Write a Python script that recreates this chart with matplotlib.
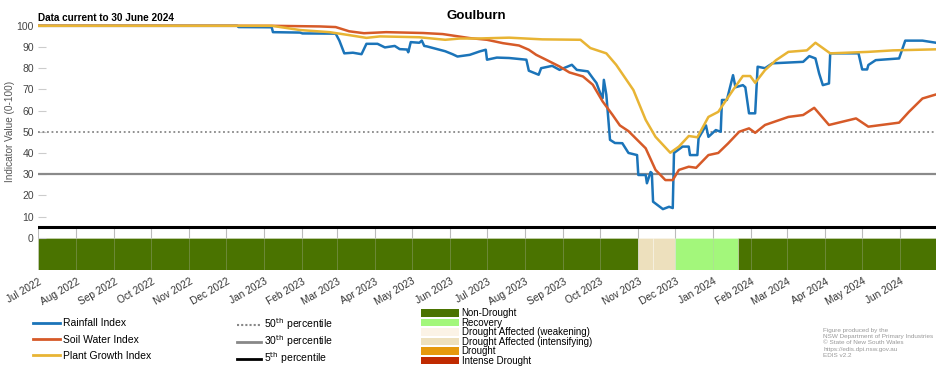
import numpy as np
import pandas as pd
import matplotlib
matplotlib.use("Agg")
import matplotlib.pyplot as plt
import matplotlib.dates as mdates
from matplotlib.lines import Line2D
from matplotlib.patches import Patch

plt.rcParams['font.family'] = ['Liberation Sans', 'DejaVu Sans']

# --- data ---
rain_dates = ["2022-07-01", "2022-12-10", "2022-12-11", "2023-01-07", "2023-01-08", "2023-01-30",
              "2023-02-01", "2023-02-28", "2023-03-03", "2023-03-07", "2023-03-14", "2023-03-21",
              "2023-03-25", "2023-04-03", "2023-04-09", "2023-04-17", "2023-04-21", "2023-04-27",
              "2023-04-28", "2023-04-30", "2023-05-07", "2023-05-09", "2023-05-11", "2023-05-13",
              "2023-05-28", "2023-06-03", "2023-06-07", "2023-06-17", "2023-06-25", "2023-06-30",
              "2023-07-01", "2023-07-09", "2023-07-19", "2023-08-02", "2023-08-04", "2023-08-12",
              "2023-08-14", "2023-08-23", "2023-08-29", "2023-09-08", "2023-09-12", "2023-09-21",
              "2023-09-25", "2023-09-28", "2023-10-01", "2023-10-03", "2023-10-04", "2023-10-06",
              "2023-10-09", "2023-10-13", "2023-10-19", "2023-10-24", "2023-10-31", "2023-11-01",
              "2023-11-07", "2023-11-08", "2023-11-11", "2023-11-12", "2023-11-13", "2023-11-21",
              "2023-11-26", "2023-11-29", "2023-11-30", "2023-12-07", "2023-12-12", "2023-12-13",
              "2023-12-19", "2023-12-20", "2023-12-26", "2023-12-28", "2024-01-03", "2024-01-07",
              "2024-01-08", "2024-01-12", "2024-01-17", "2024-01-19", "2024-01-25", "2024-01-27",
              "2024-01-30", "2024-02-04", "2024-02-06", "2024-02-12", "2024-02-18", "2024-03-14",
              "2024-03-19", "2024-03-24", "2024-03-27", "2024-03-30", "2024-04-04", "2024-04-05",
              "2024-04-28", "2024-05-01", "2024-05-05", "2024-05-06", "2024-05-12", "2024-05-31",
              "2024-06-05", "2024-06-19", "2024-06-30"]
rain_vals = [100, 100, 99.4, 99.3, 97, 96.8,
             96.4, 96.3, 93, 87, 87.3, 86.6,
             91.5, 91.5, 89.8, 90.5, 89, 88.8,
             87.5, 92.3, 92, 93, 90.5, 90.3,
             88, 86.6, 85.5, 86.3, 87.9, 88.7,
             84, 85, 84.8, 84, 78.8, 76.9,
             80, 81.1, 79.2, 81.6, 79.2, 78.5,
             75.3, 73, 68.3, 65.9, 74.5, 67.5,
             46.2, 44.7, 44.6, 40, 39, 29.6,
             29.6, 25.7, 31, 30.5, 17, 13.5,
             14.6, 14, 40, 43, 43, 39,
             39, 47, 53, 47.6, 50.8, 50,
             65, 65, 76.7, 71, 72, 71,
             58.7, 58.7, 80.7, 80, 82.3, 83,
             85.7, 84.6, 77.5, 72, 72.8, 87,
             87, 79.4, 79.4, 81.5, 83.8, 84.6,
             93, 93, 92]

soil_dates = ["2022-07-01", "2023-01-07", "2023-02-15", "2023-02-28", "2023-03-11", "2023-03-23",
              "2023-04-10", "2023-05-10", "2023-05-26", "2023-06-17", "2023-07-01", "2023-07-14",
              "2023-07-27", "2023-08-04", "2023-08-10", "2023-08-18", "2023-08-29", "2023-09-06",
              "2023-09-17", "2023-09-25", "2023-10-03", "2023-10-11", "2023-10-17", "2023-10-24",
              "2023-11-07", "2023-11-15", "2023-11-23", "2023-11-29", "2023-12-04", "2023-12-12",
              "2023-12-18", "2023-12-28", "2024-01-05", "2024-01-13", "2024-01-22", "2024-01-30",
              "2024-02-04", "2024-02-12", "2024-03-02", "2024-03-14", "2024-03-23", "2024-04-04",
              "2024-04-26", "2024-05-06", "2024-05-31", "2024-06-08", "2024-06-19", "2024-06-30"]
soil_vals = [100, 100, 99.7, 99.4, 97.4, 96.5,
             97, 96.6, 96.1, 94.2, 93.4, 91.8,
             90.7, 88.7, 86.3, 84, 80.8, 78,
             76.1, 72.2, 64.3, 58, 53, 50.3,
             42.2, 32, 27.2, 27.2, 32, 33.5,
             33, 39, 40, 44.5, 50, 51.6,
             49.5, 53.2, 57, 57.9, 61.3, 53.2,
             56.3, 52.4, 54.3, 59.4, 65.7, 67.6]

plant_dates = ["2022-07-01", "2023-01-07", "2023-01-30", "2023-02-23", "2023-03-11", "2023-03-25",
               "2023-04-05", "2023-05-07", "2023-05-28", "2023-06-09", "2023-06-23", "2023-07-19",
               "2023-08-15", "2023-09-15", "2023-09-23", "2023-10-06", "2023-10-14", "2023-10-28",
               "2023-11-07", "2023-11-15", "2023-11-27", "2023-12-04", "2023-12-12", "2023-12-19",
               "2023-12-28", "2024-01-05", "2024-01-17", "2024-01-25", "2024-01-31", "2024-02-04",
               "2024-02-12", "2024-02-21", "2024-03-02", "2024-03-17", "2024-03-24", "2024-04-05",
               "2024-05-06", "2024-05-26", "2024-06-30"]
plant_vals = [100, 100, 98, 97, 95.6, 94.3,
              95, 94.6, 93.4, 94, 94, 94.4,
              93.6, 93.4, 89.5, 87, 81.6, 69.7,
              55.6, 47.6, 40.1, 43, 48, 47.4,
              57, 59.4, 69.7, 76.3, 76.3, 73.1,
              79.1, 83.8, 87.7, 88.4, 92, 87,
              87.7, 88.4, 88.9]

# drought category band
band_starts = ["2022-07-01", "2023-11-01", "2023-11-13", "2023-12-01", "2024-01-21"]
band_ends = ["2023-11-01", "2023-11-13", "2023-12-01", "2024-01-21", "2024-06-30"]
band_cats = ["Non-Drought", "Drought Affected (intensifying)", "Drought Affected (intensifying)",
             "Recovery", "Non-Drought"]

cat_names = ["Non-Drought", "Recovery", "Drought Affected (weakening)",
             "Drought Affected (intensifying)", "Drought", "Intense Drought"]
cat_colors = ["#4a7300", "#a3f77b", "#fbf3e6", "#ede0bd", "#e6990c", "#c02a00"]

percentiles = [50, 30, 5]

c_rain = "#1b74b9"
c_soil = "#d65a28"
c_plant = "#e8b434"

fig = plt.figure(figsize=(9.52, 3.70), dpi=100)
ax = fig.add_axes([0.0399, 0.2716, 0.9433, 0.6644])

# band first
col = dict(zip(cat_names, cat_colors))
for s, e, c in zip(band_starts, band_ends, band_cats):
    s = pd.Timestamp(s)
    e = pd.Timestamp(e)
    ax.bar(s, -15, width=(e - s).days, bottom=0, align='edge', color=col[c],
           edgecolor=(1, 1, 1, 0.35), linewidth=0.6, zorder=1)

months = pd.date_range("2022-07-01", "2024-06-01", freq="MS")
ax.vlines(months, 0, 5, color="#bbbbbb", lw=0.8, zorder=2)
ax.vlines(months, -15, 0, color="#bbbbbb", lw=0.7, alpha=0.3, zorder=2)

# percentile lines
ax.axhline(50, color="#888888", lw=1.3, ls=(0, (1, 1.5)), zorder=3)
ax.axhline(30, color="#8a8a8a", lw=1.6, zorder=3)
ax.axhline(5, color="black", lw=2.2, zorder=3)

ax.plot(pd.to_datetime(soil_dates), soil_vals, color=c_soil, lw=1.8, zorder=5)
ax.plot(pd.to_datetime(plant_dates), plant_vals, color=c_plant, lw=1.8, zorder=6)
ax.plot(pd.to_datetime(rain_dates), rain_vals, color=c_rain, lw=1.8, zorder=4)

ax.set_xlim(pd.Timestamp("2022-07-01"), pd.Timestamp("2024-06-30"))
ax.set_ylim(-15, 101)
ax.set_yticks(np.arange(0, 101, 10))
ax.tick_params(axis='y', direction='in', length=6, color="#cccccc", labelsize=7.5,
               labelcolor="#444444", pad=3)
ax.set_xticks(months)
ax.xaxis.set_major_formatter(mdates.DateFormatter("%b %Y"))
ax.tick_params(axis='x', length=0, labelsize=7.3, labelcolor="#333333", pad=5)
for lab in ax.get_xticklabels():
    lab.set_rotation(30)
    lab.set_ha('right')
    lab.set_rotation_mode('anchor')
for sp in ax.spines.values():
    sp.set_visible(False)
ax.set_ylabel("Indicator Value (0-100)", fontsize=7.2, color="#555555")
ax.yaxis.set_label_coords(-0.0255, 0.56)

fig.text(0.5, 0.958, "Goulburn", ha='center', va='center', fontsize=9.5, fontweight='bold')
fig.text(0.0399, 0.951, "Data current to 30 June 2024", ha='left', va='center',
         fontsize=7.2, fontweight='bold')

# legends
h1 = [Line2D([], [], color=c, lw=2) for c in (c_rain, c_soil, c_plant)]
fig.legend(h1, ["Rainfall Index", "Soil Water Index", "Plant Growth Index"],
           loc='upper left', bbox_to_anchor=(0.03, 0.151), frameon=False, fontsize=7.5,
           handlelength=2.6, handletextpad=0.3, labelspacing=0.6, borderaxespad=0)
h2 = [Line2D([], [], color="#888888", lw=1.5, ls=(0, (1, 1))),
      Line2D([], [], color="#888888", lw=2),
      Line2D([], [], color="black", lw=2)]
fig.legend(h2, [r"%d$^{\rm th}$ percentile" % p for p in percentiles],
           loc='upper left', bbox_to_anchor=(0.245, 0.156), frameon=False, fontsize=7.5,
           handlelength=2.3, handletextpad=0.3, labelspacing=0.12, borderaxespad=0)
h3 = [Patch(facecolor=c, edgecolor='none') for c in cat_colors]
fig.legend(h3, cat_names, loc='upper left', bbox_to_anchor=(0.438, 0.177), frameon=False,
           fontsize=7, handlelength=3.9, handleheight=0.85, handletextpad=0.3,
           labelspacing=-0.05, borderaxespad=0)

credit = ["Figure produced by the", "NSW Department of Primary Industries",
          "\u00a9 State of New South Wales", "https://edis.dpi.nsw.gov.au", "EDIS v2.2"]
fig.text(0.865, 0.073, "\n".join(credit), ha='left', va='center', fontsize=4.6,
         color="#999999", linespacing=1.3)

fig.savefig("out.png", dpi=100)
